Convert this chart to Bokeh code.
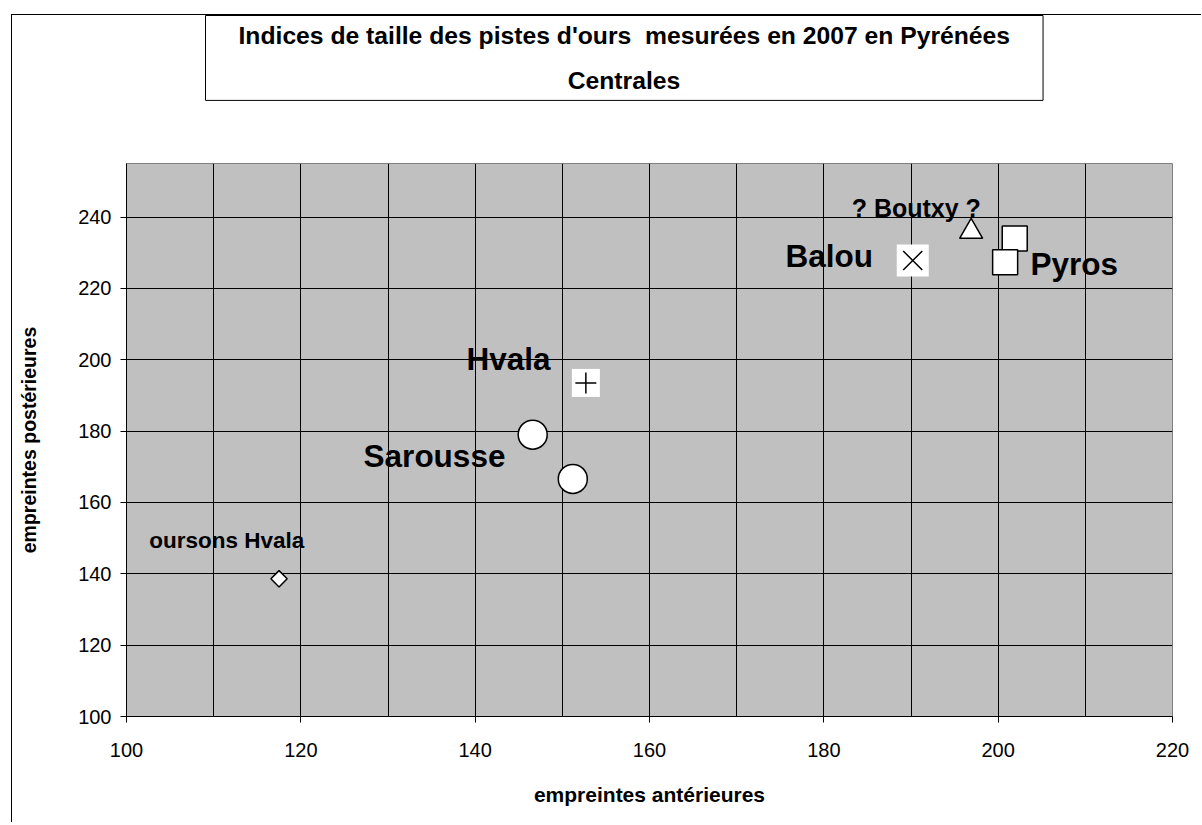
from bokeh.plotting import figure
from bokeh.models import FixedTicker, Label, Range1d, Title
from bokeh.embed import file_html
from bokeh.resources import INLINE

# ---- data ----
oursons_x = [117.5]
oursons_y = [138.6]
sarousse_x = [146.6, 151.2]
sarousse_y = [179.0, 166.6]
hvala_x = [152.7]
hvala_y = [193.5]
balou_x = [190.2]
balou_y = [227.8]
boutxy_x = [196.9]
boutxy_y = [235.9]
pyros_x = [201.9, 200.8]
pyros_y = [234.0, 227.3]

x_ticks = [100, 120, 140, 160, 180, 200, 220]
x_grid = [110, 120, 130, 140, 150, 160, 170, 180, 190, 200, 210]
y_ticks = [100, 120, 140, 160, 180, 200, 220, 240]

FONT = "Liberation Sans"
NB = "\u00a0"

p = figure(width=1190, height=808, output_backend="svg", toolbar_location=None,
           x_range=Range1d(100, 220), y_range=Range1d(100, 255),
           min_border_left=114, min_border_right=30, min_border_top=148,
           min_border_bottom=107, background_fill_color="#C0C0C0",
           border_fill_color="white", outline_line_color="#808080")
p.styles = {"margin-left": "11px", "margin-top": "14px",
            "border-left": "1px solid black", "border-top": "1px solid black"}

# axes
for ax in (p.xaxis[0], p.yaxis[0]):
    ax.axis_line_color = "black"
    ax.major_tick_line_color = "black"
    ax.major_tick_out = 6
    ax.major_tick_in = 0
    ax.minor_tick_line_color = None
    ax.major_label_text_font = FONT
    ax.major_label_text_font_size = "20px"
    ax.major_label_text_color = "black"
    ax.axis_label_text_font = FONT
    ax.axis_label_text_font_style = "bold"
    ax.axis_label_text_color = "black"

p.xaxis.ticker = FixedTicker(ticks=x_ticks)
p.yaxis.ticker = FixedTicker(ticks=y_ticks)
p.xaxis.axis_label = "empreintes antérieures"
p.yaxis.axis_label = "empreintes postérieures"
p.xaxis.axis_label_text_font_size = "21px"
p.yaxis.axis_label_text_font_size = "19.5px"
p.xaxis.major_label_standoff = 20
p.yaxis.major_label_standoff = 9
p.xaxis.axis_label_standoff = 23
p.yaxis.axis_label_standoff = 35

p.xgrid.ticker = FixedTicker(ticks=x_grid)
p.ygrid.ticker = FixedTicker(ticks=y_ticks[1:])
for g in (p.xgrid[0], p.ygrid[0]):
    g.grid_line_color = "black"
    g.grid_line_width = 1

# ---- markers ----
p.scatter(oursons_x, oursons_y, marker="square", angle=0.7854, size=11.5,
          fill_color="white", line_color="black", line_width=1.5)
p.scatter(sarousse_x, sarousse_y, marker="circle", size=29,
          fill_color="white", line_color="black", line_width=1.5)
p.scatter(hvala_x, hvala_y, marker="square", size=28,
          fill_color="white", line_color=None)
p.scatter(hvala_x, hvala_y, marker="cross", size=21,
          line_color="black", line_width=1.5)
p.scatter(balou_x, balou_y, marker="square", size=32,
          fill_color="white", line_color=None)
p.scatter(balou_x, balou_y, marker="x", size=27,
          line_color="black", line_width=1.5)
p.scatter(boutxy_x, boutxy_y, marker="triangle", size=23,
          fill_color="white", line_color="black", line_width=1.5)
p.scatter(pyros_x, pyros_y, marker="square", size=25,
          fill_color="white", line_color="black", line_width=1.5)

# ---- data labels ----
def lab(x, y, text, size):
    p.add_layout(Label(x=x, y=y, text=text, text_font=FONT, text_font_style="bold",
                       text_font_size=size, text_color="black",
                       text_align="left", text_baseline="middle"))

lab(102.6, 149.3, "oursons Hvala", "22.5px")
lab(127.2, 173.1, "Sarousse", "31.5px")
lab(139.0, 200.2, "Hvala", "31.5px")
lab(175.6, 229.2, "Balou", "31.5px")
lab(183.2, 242.5, "? Boutxy ?", "25px")
lab(203.7, 226.8, "Pyros", "31.5px")

# ---- spacer between plot area and title box ----
spacer = Title(text=NB, text_font=FONT, text_font_size="2px", standoff=57,
               text_color="white")
p.add_layout(spacer, "above")

# ---- boxed title ----
line1 = "Indices de taille des pistes d'ours" + NB + " mesurées en 2007 en Pyrénées"
line2 = NB * 48 + "Centrales"
title = Title(text=line1 + "\n" + line2,
              align="left", offset=79, vertical_align="top", standoff=0,
              text_font=FONT, text_font_style="bold", text_font_size="24.7px",
              text_color="black", text_line_height=1.7,
              border_line_color="black", border_line_width=1,
              background_fill_color="white",
              padding=dict(left=33, right=33, top=6, bottom=6))
p.add_layout(title, "above")

open("out.html", "w").write(file_html(p, INLINE))
